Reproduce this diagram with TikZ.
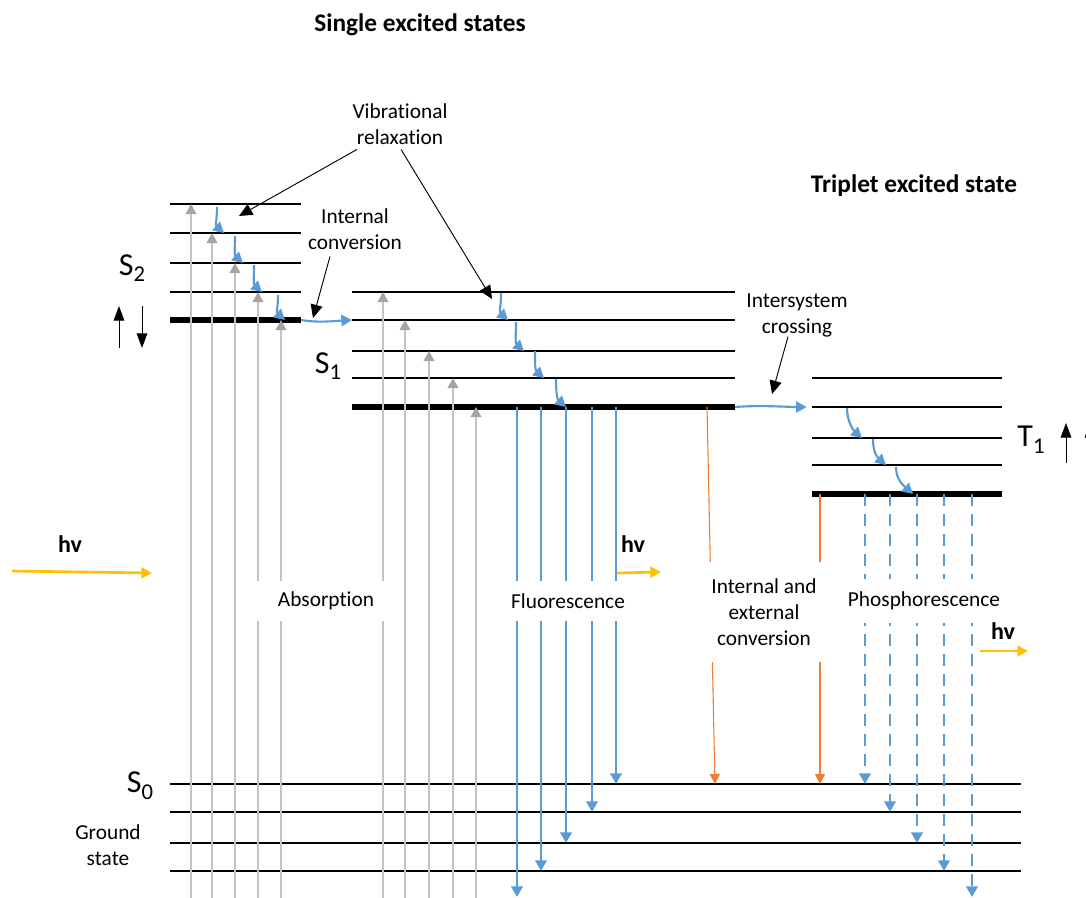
\documentclass[tikz,border=0pt]{standalone}
\usepackage{fontspec}
\setmainfont{Carlito}[Ligatures=NoCommon]
\usetikzlibrary{arrows.meta, calc}

\definecolor{relaxblue}{HTML}{5B9BD5}
\definecolor{convorange}{HTML}{ED7D31}
\definecolor{photongold}{HTML}{FFC000}
\definecolor{absline}{HTML}{C4C4C4}
\definecolor{abshead}{HTML}{A5A5A5}

\newcommand{\statesub}[2]{#1\raisebox{-5pt}{\fontsize{17}{17}\selectfont #2}}

\begin{document}
\begin{tikzpicture}[
    x=0.75pt, y=-0.75pt,
    level/.style={line width=1.4pt},
    lowest/.style={line width=4pt},
    absorb/.style={draw=absline, line width=1pt, -{Triangle[width=8pt, length=7.5pt, color=abshead]}},
    fluor/.style={draw=relaxblue, line width=2.2pt, -{Triangle[width=8.5pt, length=8pt]}},
    phos/.style={fluor, dash pattern=on 9pt off 6pt},
    conv/.style={draw=convorange, line width=0.8pt, -{Triangle[width=7.5pt, length=7.5pt]}},
    relax/.style={draw=relaxblue, line width=1.6pt, -{Triangle[width=8.5pt, length=8pt]}},
    note/.style={line width=0.7pt, -{Triangle[width=9pt, length=10pt]}},
    spin/.style={line width=0.7pt, -{Triangle[width=8pt, length=11pt]}},
    photon/.style={draw=photongold, line width=2pt, -{Triangle[width=8pt, length=8pt]}},
    txt/.style={font=\fontsize{16}{19.5}\selectfont, align=center, inner sep=2pt},
    gap/.style={txt, fill=white},
    title/.style={font=\fontsize{19}{23}\selectfont\bfseries},
    state/.style={font=\fontsize{24}{28}\selectfont},
    hv/.style={font=\fontsize{18}{21}\selectfont\bfseries}
]
\useasboundingbox (0,0) rectangle (1086,897);

% ==================== LEVELS ====================
\foreach \y [count=\i] in {204,233,263,292,320} {
    \coordinate (s2l\i) at (170,\y);
    \coordinate (s2r\i) at (301,\y);
}
\foreach \y [count=\i] in {292,320,351,378,407} {
    \coordinate (s1l\i) at (352,\y);
    \coordinate (s1r\i) at (735,\y);
}
\foreach \y [count=\i] in {378,407,438,465,494} {
    \coordinate (t1l\i) at (812,\y);
    \coordinate (t1r\i) at (1002,\y);
}
\foreach \y [count=\i] in {784,812,843,871} {
    \coordinate (s0l\i) at (170,\y);
    \coordinate (s0r\i) at (1021,\y);
}
\coordinate (floor) at (0,900);
\coordinate (fbot) at (0,897);

\foreach \i in {1,...,4} {
    \draw[level] (s2l\i) -- (s2r\i);
    \draw[level] (s1l\i) -- (s1r\i);
    \draw[level] (t1l\i) -- (t1r\i);
    \draw[level] (s0l\i) -- (s0r\i);
}
\draw[lowest] (s2l5) -- (s2r5);
\draw[lowest] (s1l5) -- (s1r5);
\draw[lowest] (t1l5) -- (t1r5);

% ==================== ABSORPTION ====================
\foreach \x/\i in {191/1,212/2,235/3,258/4,281/5}
    \draw[absorb] (\x,0 |- floor) -- (\x,0 |- s2l\i);
\foreach \x/\i in {383/1,405/2,429/3,453/4,476/5}
    \draw[absorb] (\x,0 |- floor) -- (\x,0 |- s1l\i);

% ==================== EMISSION ====================
\foreach \x/\t in {517/fbot,541/s0l4,566/s0l3,592/s0l2,616/s0l1}
    \draw[fluor] (\x,0 |- s1l5) -- (\x,0 |- \t);
\foreach \x/\t in {865/s0l1,890/s0l2,917/s0l3,944/s0l4,972/fbot}
    \draw[phos] (\x,0 |- t1l5) -- (\x,0 |- \t);
\draw[conv] (707,0 |- s1l5) -- (715,0 |- s0l1);
\draw[conv] (820,0 |- t1l5) -- (820,0 |- s0l1);

% ==================== RELAXATION ====================
\foreach \a/\b/\c/\t in {217/207/224/s2l2, 235/236/243/s2l3, 254/265/262/s2l4, 278/295/285/s2l5,
        501/293/508/s1l2, 516/322/524/s1l3, 535/351/544/s1l4, 556/379/566/s1l5,
        847/408/862/t1l3, 873/439/886/t1l4, 896/467/913/t1l5}
    \draw[relax] (\a,\b) .. controls +(0,13) and +(-9,-8) .. (\c,0 |- \t);
\draw[relax] (s2r5) .. controls +(18,3) and +(-18,1) .. (s1l2);
\draw[relax, shorten >=4pt] (s1r5) .. controls +(25,-2) and +(-25,0) .. (t1l2);

% ==================== LABELS ====================
\node[title] (single) at (420,25) {Single excited states};
\node[title] (triplet) at (914,186) {Triplet excited state};

\node[txt] (vib) at (400,124) {Vibrational\\relaxation};
\node[txt] (intconv) at (355,229) {Internal\\conversion};
\node[txt] (isc) at (797,315) {Intersystem\\crossing};

\node[state] (s2) at (132,268) {\statesub{S}{2}};
\node[state] (s1) at (328,366) {\statesub{S}{1}};
\node[state] (t1) at (1031,440) {\statesub{T}{1}};
\node[state] (s0) at (140,786) {\statesub{S}{0}};
\node[txt] (ground) at (108,845) {Ground\\state};

\node[gap, minimum width=112pt, minimum height=30pt] (absorption) at (326,601) {Absorption};
\node[gap, minimum width=100pt, minimum height=30pt] (fluorescence) at (568,601) {Fluorescence};
\node[gap, minimum width=95pt, minimum height=75pt] (otherconv) at (764,612) {Internal and\\external\\conversion};
\node[gap, minimum width=125pt, minimum height=33pt] (phosphorescence) at (924,601) {Phosphorescence};

% annotation arrows
\coordinate (vrtwo) at (239,216);
\coordinate (vrone) at (492,299);
\coordinate (icend) at (313,318);
\coordinate (iscend) at (772,394);
\draw[note] ($(vib.south)+(-43,2)$) -- (vrtwo);
\draw[note] ($(vib.south)+(1,2)$) -- (vrone);
\draw[note] ($(intconv.south)+(-25,4)$) -- (icend);
\draw[note] ($(isc.south)+(-9,-3)$) -- (iscend);

% ==================== PHOTONS ====================
\node[hv] (hvin) at (70,544) {hv};
\node[hv] (hvfl) at (633,544) {hv};
\node[hv] (hvph) at (1003,631) {hv};
\coordinate (inbeg) at (12,571);
\coordinate (inend) at (152,573);
\coordinate (flbeg) at (617,573);
\coordinate (flend) at (661,572);
\coordinate (phbeg) at (980,651);
\coordinate (phend) at (1028,651);
\draw[photon] (inbeg) -- (inend);
\draw[photon] (flbeg) -- (flend);
\draw[photon] (phbeg) -- (phend);

% spins
\draw[spin] (119,348) -- (119,306);
\draw[spin] (142,306) -- (142,348);
\draw[spin] (1066,463) -- (1066,423);
\draw[spin] (1090,463) -- (1090,423);

\end{tikzpicture}
\end{document}
